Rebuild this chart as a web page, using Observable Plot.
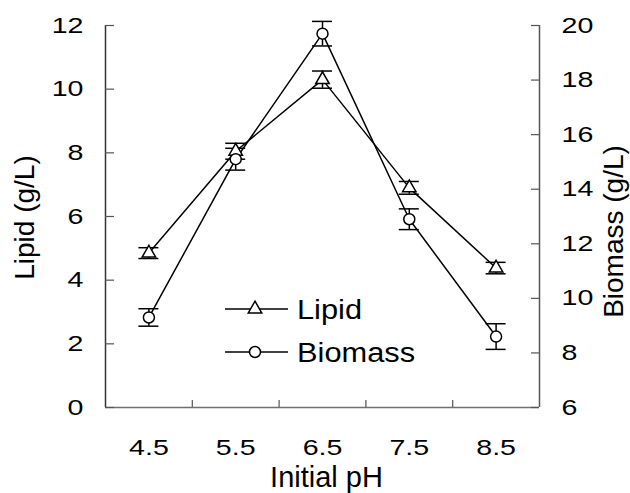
<!DOCTYPE html>
<html><head><meta charset="utf-8">
<script src="https://cdn.jsdelivr.net/npm/d3@7"></script>
<script src="https://cdn.jsdelivr.net/npm/@observablehq/plot@0.6"></script>
<style>
html,body{margin:0;padding:0;background:#fff;}
#chart{position:relative;width:630px;height:493px;font-family:"Liberation Sans",Arial,Helvetica,sans-serif;}
#legend{position:absolute;left:0;top:0;pointer-events:none;}
</style></head><body><div id="chart"></div>
<script>
// ---- data ----
const ph = [4.5, 5.5, 6.5, 7.5, 8.5];
const phLabels = ["4.5", "5.5", "6.5", "7.5", "8.5"];
const lipid = [4.85, 8.05, 10.3, 6.9, 4.38];
const lipidErr = [0.17, 0.25, 0.27, 0.2, 0.18];
const biomass = [9.3, 15.1, 19.7, 12.9, 8.6];
const biomassErr = [0.32, 0.4, 0.45, 0.38, 0.47];
const lipidTicks = [0, 2, 4, 6, 8, 10, 12];
const biomassTicks = [6, 8, 10, 12, 14, 16, 18, 20];
const xBoundaries = [5, 6, 7, 8];
const xDomain = [4, 9];
const lipidDomain = [0, 12];
const biomassDomain = [6, 20];
const seriesNames = ["Lipid", "Biomass"];
const seriesSymbols = ["triangle", "circle"];

// ---- layout ----
const W = 630, H = 493;
const mL = 105, mR = 91, mT = 25, mB = 86;
const fw = W - mL - mR, fh = H - mT - mB;
const capW = 10 * (xDomain[1] - xDomain[0]) / fw; // 10px half-width caps in data units

const toL = b => lipidDomain[0] + (b - biomassDomain[0]) * (lipidDomain[1] - lipidDomain[0]) / (biomassDomain[1] - biomassDomain[0]);

const rowsL = ph.map((x, i) => ({x, y: lipid[i], lo: lipid[i] - lipidErr[i], hi: lipid[i] + lipidErr[i]}));
const rowsB = ph.map((x, i) => ({x, y: toL(biomass[i]), lo: toL(biomass[i] - biomassErr[i]), hi: toL(biomass[i] + biomassErr[i])}));

function errMarks(rows) {
  return [
    Plot.ruleX(rows, {x: "x", y1: "lo", y2: "hi", stroke: "black", strokeWidth: 1.5}),
    Plot.ruleY(rows, {y: "hi", x1: d => d.x - capW, x2: d => d.x + capW, stroke: "black", strokeWidth: 1.5}),
    Plot.ruleY(rows, {y: "lo", x1: d => d.x - capW, x2: d => d.x + capW, stroke: "black", strokeWidth: 1.5})
  ];
}

const chart = Plot.plot({
  width: W, height: H,
  marginLeft: mL, marginRight: mR, marginTop: mT, marginBottom: mB,
  style: {fontFamily: '"Liberation Sans", Arial, Helvetica, sans-serif', fontSize: "22px", color: "black", background: "white"},
  x: {domain: xDomain, axis: null},
  y: {domain: lipidDomain, axis: null},
  marks: [
    // axis lines
    Plot.ruleY([lipidDomain[0]], {stroke: "#707070", strokeWidth: 1.5}),
    Plot.ruleX([xDomain[0]], {stroke: "#333", strokeWidth: 1.5}),
    Plot.ruleX([xDomain[1]], {stroke: "#555", strokeWidth: 1.5}),
    // inward ticks
    Plot.tickY(lipidTicks, {y: d => d, insetRight: fw - 9, stroke: "#555", strokeWidth: 1.2}),
    Plot.tickY(biomassTicks.map(toL), {y: d => d, insetLeft: fw - 8, stroke: "#555", strokeWidth: 1.2}),
    Plot.tickX(xBoundaries, {x: d => d, insetTop: fh - 7, stroke: "#555", strokeWidth: 1.2}),
    // tick labels
    Plot.axisY(lipidTicks, {anchor: "left", tickSize: 0, tickPadding: 22, label: null, fontSize: 22}),
    Plot.axisY(biomassTicks.map(toL), {anchor: "right", tickSize: 0, tickPadding: 22, label: null, fontSize: 22,
      tickFormat: d => String(Math.round(biomassDomain[0] + (d - lipidDomain[0]) * (biomassDomain[1] - biomassDomain[0]) / (lipidDomain[1] - lipidDomain[0])))}),
    Plot.axisX(ph, {anchor: "bottom", tickSize: 0, tickPadding: 32, label: null, fontSize: 22,
      tickFormat: d => phLabels[ph.indexOf(d)]}),
    // titles
    Plot.text(["Initial pH"], {frameAnchor: "bottom", textAnchor: "middle", lineAnchor: "middle", dx: 4, dy: 70, fontSize: 29, text: d => d}),
    Plot.text(["Lipid (g/L)"], {frameAnchor: "left", textAnchor: "middle", lineAnchor: "middle", rotate: -90, dx: -80, dy: 1, fontSize: 28, text: d => d}),
    Plot.text(["Biomass (g/L)"], {frameAnchor: "right", textAnchor: "middle", lineAnchor: "middle", rotate: -90, dx: 75, dy: 15, fontSize: 28, text: d => d}),
    // data lines
    Plot.line(rowsL, {x: "x", y: "y", stroke: "black", strokeWidth: 1.5}),
    Plot.line(rowsB, {x: "x", y: "y", stroke: "black", strokeWidth: 1.5}),
    ...errMarks(rowsL),
    ...errMarks(rowsB),
    Plot.dot(rowsL, {x: "x", y: "y", symbol: "triangle", r: 5, fill: "white", stroke: "black", strokeWidth: 1.5}),
    Plot.dot(rowsB, {x: "x", y: "y", symbol: "circle", r: 5.5, fill: "white", stroke: "black", strokeWidth: 1.5})
  ]
});

// stretch tick labels horizontally to match the reference's wide digits
chart.querySelectorAll('g[aria-label$="tick label"] text').forEach(t => {
  t.setAttribute("transform", (t.getAttribute("transform") || "") + " scale(1.3,1)");
});

const container = document.getElementById("chart");
container.appendChild(chart);

// legend overlay
const leg = d3.select(container).append("svg").attr("id", "legend").attr("width", W).attr("height", H);
const legY = [309, 352];
seriesNames.forEach((name, i) => {
  const g = leg.append("g").attr("transform", `translate(225,${legY[i]})`);
  g.append("line").attr("x1", 0).attr("x2", 63).attr("y1", 0).attr("y2", 0).attr("stroke", "black").attr("stroke-width", 1.5);
  const sym = seriesSymbols[i] === "triangle" ? d3.symbolTriangle : d3.symbolCircle;
  const r = seriesSymbols[i] === "triangle" ? 5 : 5.5;
  g.append("path").attr("transform", "translate(30,0)").attr("d", d3.symbol(sym, Math.PI * r * r)())
    .attr("fill", "white").attr("stroke", "black").attr("stroke-width", 1.5);
  g.append("text").attr("transform", "translate(72,0) scale(1.1,1)").attr("dy", "0.36em")
    .attr("font-size", 28).attr("font-family", '"Liberation Sans", Arial, sans-serif').text(name);
});
</script></body></html>
